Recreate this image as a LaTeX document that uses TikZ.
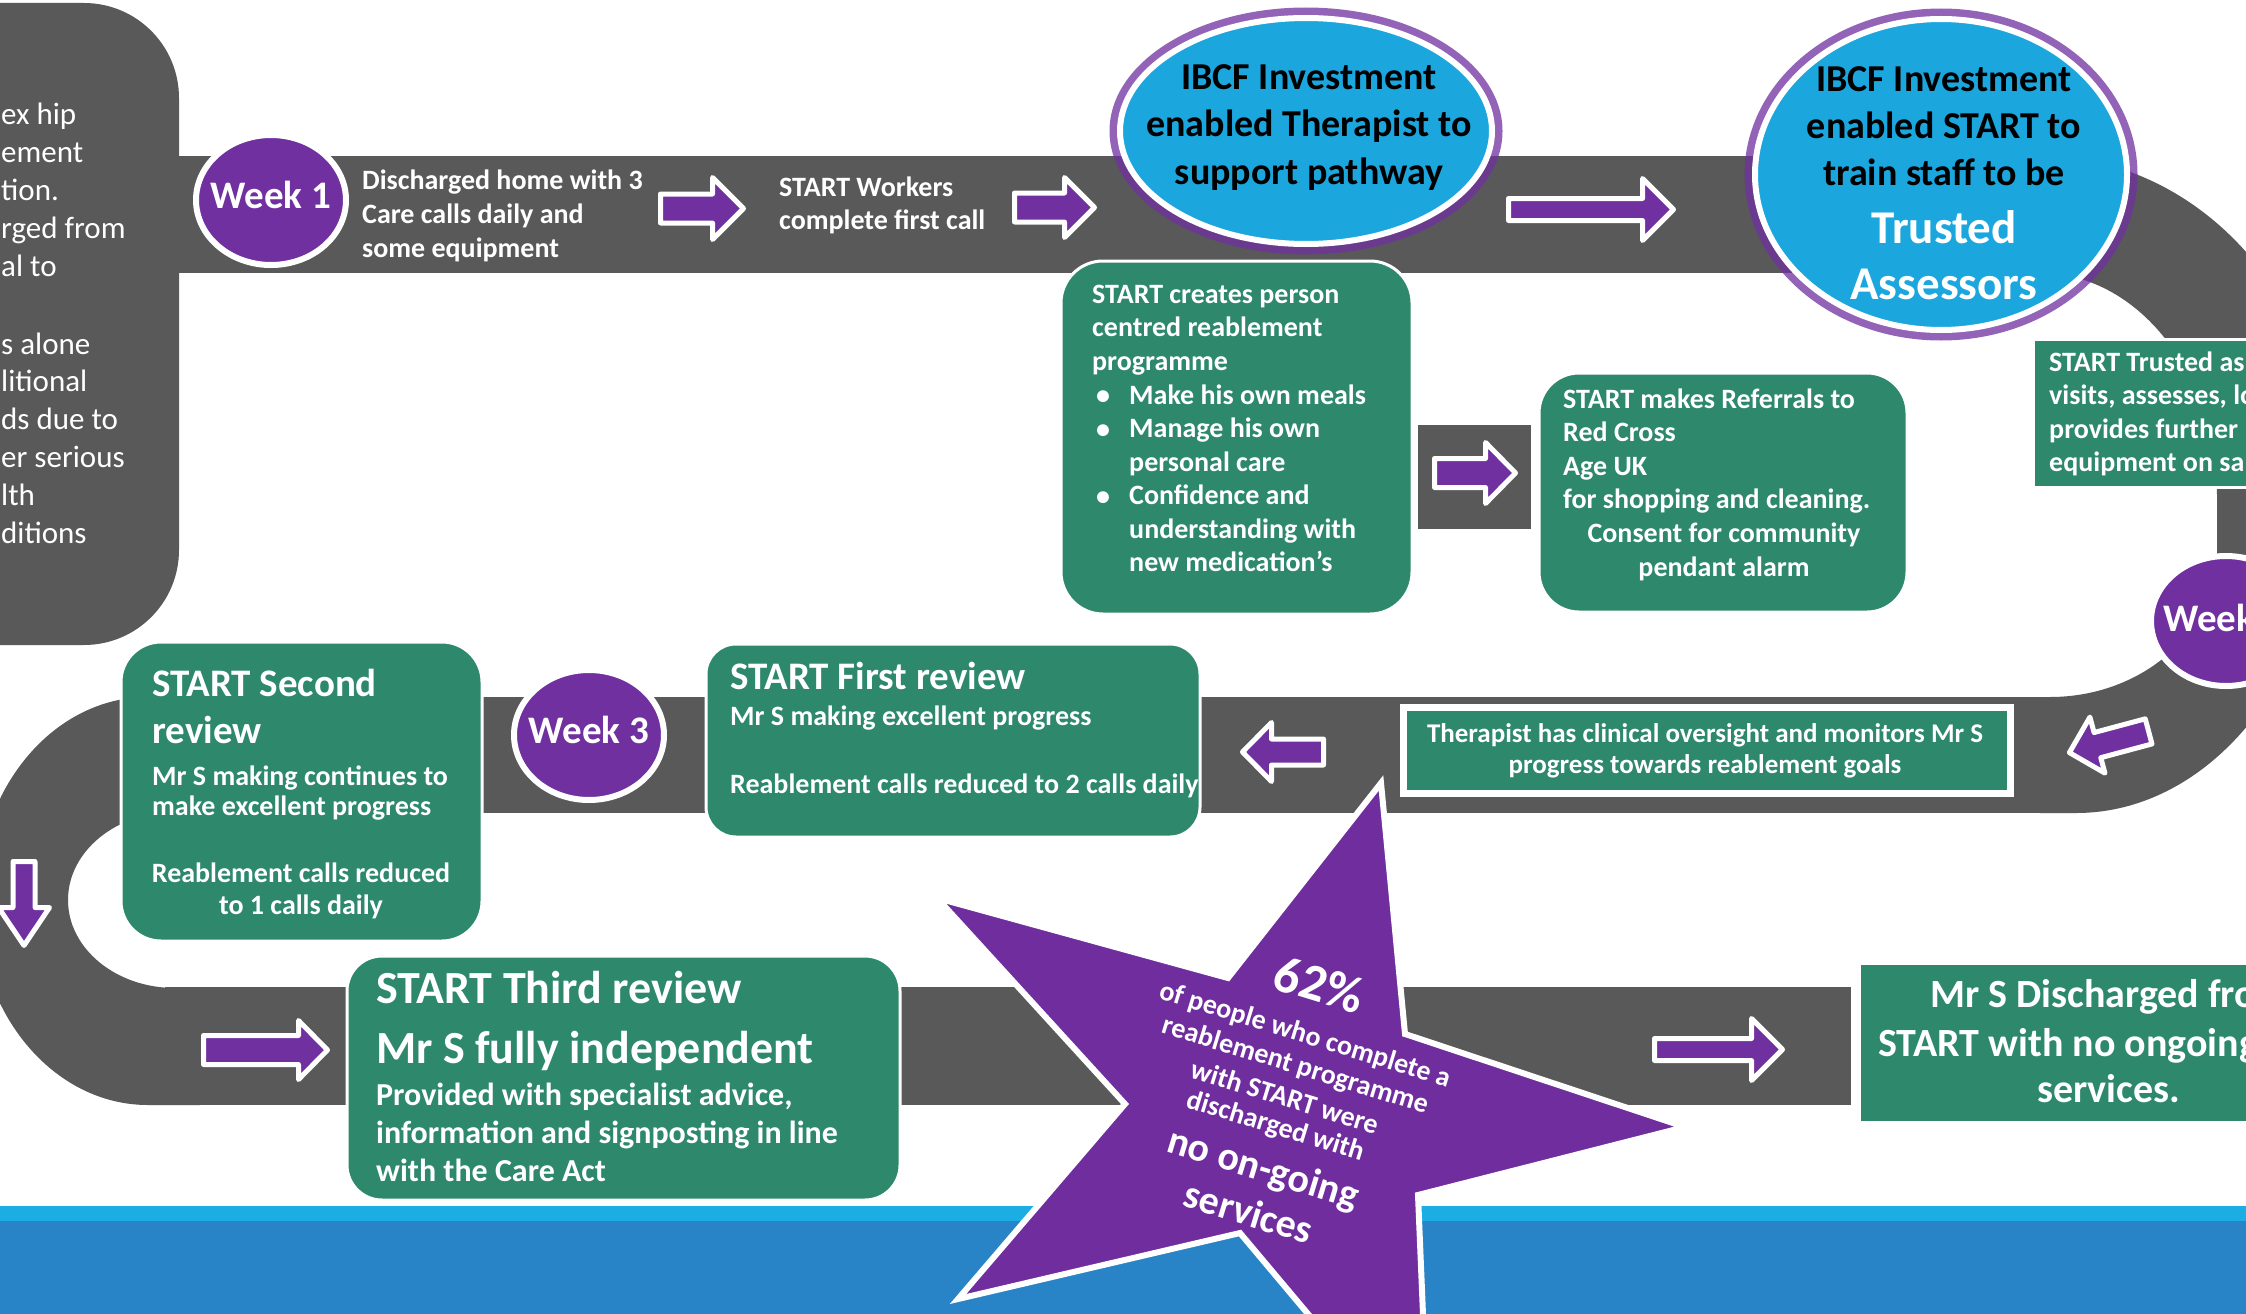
\documentclass[tikz,border=0pt]{standalone}
\usepackage{fontspec}
\setmainfont{Carlito}
\usetikzlibrary{shapes.geometric}
\definecolor{road}{RGB}{89,89,89}
\definecolor{grn}{RGB}{46,136,108}
\definecolor{purp}{RGB}{112,48,160}
\definecolor{starp}{RGB}{111,45,158}
\definecolor{skyb}{RGB}{27,166,222}
\definecolor{bandl}{RGB}{27,173,228}
\definecolor{bandd}{RGB}{41,132,199}
\newcommand\fs[2]{\fontsize{#1}{#2}\selectfont}
\newcommand\tlines[7]{\foreach \tl [count=\ti] in {#7} {\node[#2, anchor=#3] (#1\ti) at (#4, {#5+#6*(\ti-1)}) {\tl};}}
% block arrow: centre x, centre y, rotation, length, half shaft, half head, head length
\newcommand\barr[7]{\begin{scope}[shift={(#1,#2)}, rotate=#3]
  \filldraw[arrw] ({-#4/2},-#5) -- ({#4/2-#7},-#5) -- ({#4/2-#7},-#6) -- ({#4/2},0) -- ({#4/2-#7},#6) -- ({#4/2-#7},#5) -- ({-#4/2},#5) -- cycle;
  \end{scope}}
\tikzset{
  wb/.style={text=white, inner sep=0pt, font=\bfseries\fs{#1}{#1}},
  bk/.style={text=black, inner sep=0pt, font=\bfseries\fs{#1}{#1}},
  wr/.style={text=white, inner sep=0pt, font=\fs{#1}{#1}},
  gbox/.style={rectangle, fill=grn, draw=white, line width=3pt, inner sep=0pt},
  weekc/.style={ellipse, fill=purp, draw=white, line width=6pt, inner sep=0pt, minimum width=150pt, minimum height=130pt},
  ibcf/.style={ellipse, fill=skyb, draw=white, line width=6pt, inner sep=0pt},
  glow/.style={ellipse, draw=purp, line width=8pt, opacity=0.75, inner sep=0pt},
  arrw/.style={fill=purp, draw=white, line width=5pt, line join=round}
}
\begin{document}
\begin{tikzpicture}[x=1pt,y=-1pt]
\useasboundingbox (0,0) rectangle (2246,1314);
\clip (0,0) rectangle (2246,1314);
\fill[white] (0,0) rectangle (2246,1314);
% bottom bands
\fill[bandl] (0,1206) rectangle (2246,1221);
\fill[bandd] (0,1221) rectangle (2246,1314);
% roads
\fill[road, rounded corners=95pt] (-150,3) rectangle (179,645);
\fill[road] (175,156) rectangle (2045,273);
\fill[road] (140,697) rectangle (2080,813);
\fill[road] (165,987) rectangle (1851,1105);
\fill[road] (2040,156) arc[start angle=-90, end angle=0, x radius=290, y radius=324]
  arc[start angle=0, end angle=90, x radius=254, y radius=333] -- (2040,813) -- (2040,697) -- (2050,697)
  arc[start angle=90, end angle=0, x radius=167, y radius=146] -- (2217,497)
  arc[start angle=0, end angle=-90, x radius=177, y radius=224] -- cycle;
\fill[road] (148,697) arc[start angle=-90, end angle=-270, x radius=171, y radius=204] -- (200,1105) -- (200,988) -- (175,988)
  arc[start angle=90, end angle=270, x radius=107, y radius=88] -- (200,812) -- (200,697) -- cycle;
\fill[road] (1418,425) rectangle (1531,529);
% left box text
\tlines{lb}{wr=31}{base west}{1}{124}{38}{ex hip, ement, tion., rged from, al to}
\tlines{lc}{wr=31}{base west}{1}{354}{37.8}{s alone, litional, ds due to, er serious, lth, ditions}
% week 1 and top road
\node[weekc] (w1) at (271,200) {};
\node[wb=39, anchor=base] (w1t) at (271,208) {Week 1};
\tlines{dh}{wb=28}{base west}{362}{189}{34}{Discharged home with 3, Care calls daily and, some equipment}
\tlines{sw}{wb=28}{base west}{779}{196}{33}{START Workers, complete first call}
\barr{702}{208.5}{0}{83}{14.5}{31}{31}
\barr{1054.5}{207.5}{0}{80}{14.5}{30}{30}
\barr{1591}{209.5}{0}{165}{11}{31}{31}
% IBCF ellipses
\node[glow, minimum width=385pt, minimum height=239pt] (e1g) at (1306,131) {};
\node[ibcf, minimum width=372pt, minimum height=226pt] (e1) at (1306,131) {};
\tlines{et}{bk=38}{base}{1309}{89}{47.5}{IBCF Investment, enabled Therapist to, support pathway}
\node[glow, minimum width=385pt, minimum height=324pt] (e2g) at (1941,174.5) {};
\node[ibcf, minimum width=372pt, minimum height=311pt] (e2) at (1941,174.5) {};
\tlines{es}{bk=38}{base}{1944}{92}{46.5}{IBCF Investment, enabled START to, train staff to be}
\tlines{ew}{wb=47}{base}{1944}{243}{56}{Trusted, Assessors}
% creates box
\node[gbox, rounded corners=42pt, minimum width=351pt, minimum height=353pt] (g1) at (1236.5,437.5) {};
\tlines{ca}{wb=28}{base west}{1092}{303}{33.6}{START creates person, centred reablement, programme}
\tlines{cb}{wb=28}{base west}{1129}{404}{33.5}{Make his own meals, Manage his own, personal care, Confidence and, understanding with, new medication’s}
\node[wb=28, anchor=base west] (bu1) at (1096,404) {•};
\node[wb=28, anchor=base west] (bu2) at (1096,438) {•};
\node[wb=28, anchor=base west] (bu3) at (1096,505) {•};
\barr{1475}{473}{0}{81}{14.5}{30.5}{30}
% referrals box
\node[gbox, rounded corners=40pt, minimum width=368pt, minimum height=239pt] (g2) at (1723,492.5) {};
\tlines{ra}{wb=28}{base west}{1563}{408}{33.6}{START makes Referrals to, Red Cross, Age UK, for shopping and cleaning.}
\tlines{rb}{wb=28}{base}{1724}{542}{34}{Consent for community, pendant alarm}
% trusted assessor box
\node[gbox, minimum width=257pt, minimum height=148pt] (g3) at (2161.5,413) {};
\tlines{ta}{wb=28}{base west}{2049}{371}{33.5}{START Trusted as, {visits, assesses, lo}, provides further, equipment on sa}
% week 2
\node[weekc] (w2) at (2226,621) {};
\node[wb=39, anchor=base west] (w2t) at (2163,631) {Week};
\barr{2109}{742}{195}{82}{13}{29}{29}
% therapist box
\node[rectangle, fill=grn, draw=white, line width=7pt, inner sep=0pt, minimum width=607pt, minimum height=86pt] (g4) at (1707,750.5) {};
\tlines{th}{wb=27}{base}{1705}{742}{31}{Therapist has clinical oversight and monitors Mr S, progress towards reablement goals}
\barr{1283}{752}{180}{81}{13}{29.5}{29}
% first review
\node[gbox, rounded corners=30pt, minimum width=494pt, minimum height=193pt] (g5) at (953,740.5) {};
\node[wb=39, anchor=base west] (fr1) at (730,689) {START First review};
\node[wb=28, anchor=base west] (fr2) at (730,725) {Mr S making excellent progress};
\node[wb=28, anchor=base west] (fr3) at (730,793) {Reablement calls reduced to 2 calls daily};
% week 3
\node[weekc] (w3) at (589,735) {};
\node[wb=39, anchor=base] (w3t) at (589,743) {Week 3};
% second review
\node[gbox, rounded corners=40pt, minimum width=361pt, minimum height=299pt] (g6) at (301.5,791.5) {};
\tlines{sr}{wb=39}{base west}{152}{696}{47}{START Second, review}
\tlines{sm}{wb=28}{base west}{152}{785}{30}{Mr S making continues to, make excellent progress}
\tlines{sc}{wb=28}{base}{301}{882}{32}{Reablement calls reduced, to 1 calls daily}
\barr{24}{903.5}{-90}{84}{11}{25.5}{38}
% third review
\barr{265.5}{1050}{0}{124}{14.5}{29.5}{29}
\node[gbox, rounded corners=35pt, minimum width=553pt, minimum height=244pt] (g7) at (623.5,1078) {};
\tlines{tr}{wb=46}{base west}{376}{1003}{60}{START Third review, Mr S fully independent}
\tlines{tp}{wb=32}{base west}{376}{1105}{38}{{Provided with specialist advice,}, information and signposting in line, with the Care Act}
% discharged box
\barr{1718.5}{1049.5}{0}{128}{11}{31}{31}
\node[gbox, minimum width=441pt, minimum height=159pt] (g8) at (2079.5,1042.5) {};
\node[wb=40, anchor=base west] (ds1) at (1930,1007) {Mr S Discharged fro};
\node[wb=40, anchor=base west] (ds2) at (1878,1056) {START with no ongoing};
\node[wb=40, anchor=base west] (ds3) at (2037,1102) {services.};
% star
\fill[starp, draw=white, line width=6pt, line join=miter]
  (1381,783) -- (1405,1034) -- (1685,1127) -- (1418,1195) -- (1429,1458) -- (1240,1233)
  -- (958,1299) -- (1125,1104) -- (937,898) -- (1228,978) -- cycle;
\begin{scope}[shift={(1283,1100)}, rotate=-17]
  \node[wb=52, transform shape] (s1) at (1,-121) {62\%};
  \node[wb=28, transform shape] (s2) at (2,-68) {of people who complete a};
  \node[wb=28, transform shape] (s3) at (1.6,-36) {reablement programme};
  \node[wb=28, transform shape] (s4) at (0.7,-4) {with START were};
  \node[wb=28, transform shape] (s5) at (0.3,28) {discharged with};
  \node[wb=40, transform shape] (s6) at (1.3,73) {no on-going};
  \node[wb=40, transform shape] (s7) at (0.2,117) {services};
\end{scope}
\end{tikzpicture}
\end{document}
